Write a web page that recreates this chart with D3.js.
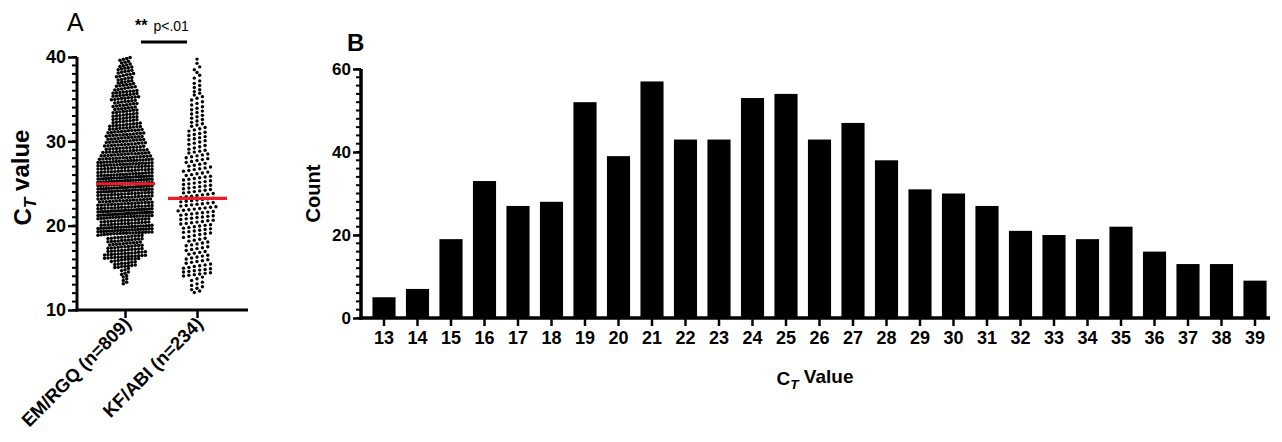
<!DOCTYPE html>
<html>
<head>
<meta charset="utf-8">
<script src="https://cdn.jsdelivr.net/npm/d3@7"></script>
<style>
  body { margin: 0; background: #fff; }
  svg { display: block; font-family: "Liberation Sans", Arial, sans-serif; }
</style>
</head>
<body>
<div id="chart"></div>
<script>
// panel B histogram: EM/RGQ counts per CT value (sums to 809)
const ctValues = [13, 14, 15, 16, 17, 18, 19, 20, 21, 22, 23, 24, 25, 26, 27, 28, 29, 30, 31, 32, 33, 34, 35, 36, 37, 38, 39];
const ctCounts = [5, 7, 19, 33, 27, 28, 52, 39, 57, 43, 43, 53, 54, 43, 47, 38, 31, 30, 27, 21, 20, 19, 22, 16, 13, 13, 9];

// panel A KF/ABI column, counts per CT value (sums to 234)
const kfValues = [12, 13, 14, 15, 16, 17, 18, 19, 20, 21, 22, 23, 24, 25, 26, 27, 28, 29, 30, 31, 32, 33, 34, 35, 36, 37, 38, 39];
const kfCounts = [6, 5, 13, 10, 9, 9, 9, 12, 13, 14, 14, 13, 12, 11, 10, 9, 9, 7, 8, 7, 6, 6, 5, 5, 4, 3, 3, 2];

const groups = ['EM/RGQ (n=809)', 'KF/ABI (n=234)'];
const yTicksA = [10, 20, 30, 40];
const yTicksB = [0, 20, 40, 60];

const W = 1282, H = 442;
const svg = d3.select('#chart').append('svg').attr('width', W).attr('height', H);

// spread each count evenly across its one-unit bin
function expand(values, counts) {
  const out = [];
  values.forEach((v, i) => {
    for (let j = 0; j < counts[i]; j++) out.push(v + (j + 0.5) / counts[i]);
  });
  return out;
}

function subLabel(sel, before, after) {
  sel.append('tspan').text(before);
  sel.append('tspan').attr('font-style', 'italic').attr('font-size', '0.72em').attr('dy', '0.3em').text('T');
  sel.append('tspan').attr('dy', '-0.3em').text(after);
}

function styleTickText(axis, size) {
  axis.selectAll('.tick text')
    .attr('font-size', size).attr('font-weight', 'bold').attr('fill', '#000')
    .attr('font-family', '"Liberation Sans", Arial, sans-serif');
}

// ---------------- panel A ----------------
const a = { left: 77, right: 248, top: 57, bottom: 310 };
const yA = d3.scaleLinear().domain([10, 40]).range([a.bottom, a.top]);
const xA = d3.scalePoint().domain(groups).range([125, 197]);

const gA = svg.append('g');

// minor ticks
gA.append('g').selectAll('line')
  .data(d3.range(10, 41, 1))
  .join('line')
  .attr('x1', a.left - 5).attr('x2', a.left)
  .attr('y1', d => yA(d)).attr('y2', d => yA(d))
  .attr('stroke', '#000').attr('stroke-width', 2);

const yAxisA = gA.append('g')
  .attr('transform', `translate(${a.left},0)`)
  .call(d3.axisLeft(yA).tickValues(yTicksA).tickSize(9).tickPadding(2));
yAxisA.select('.domain').attr('stroke-width', 3).attr('d', `M0,${a.bottom + 1.5}V${a.top}`);
yAxisA.selectAll('.tick line').attr('stroke-width', 2.5);
styleTickText(yAxisA, 18);

const xAxisA = gA.append('g')
  .attr('transform', `translate(0,${a.bottom})`)
  .call(d3.axisBottom(xA).tickSize(8).tickFormat(''));
xAxisA.select('.domain').attr('stroke-width', 3).attr('d', `M${a.left - 1.5},0H${a.right}`);
xAxisA.selectAll('.tick line').attr('stroke-width', 2.5);

gA.append('g').selectAll('text')
  .data(groups)
  .join('text')
  .attr('transform', d => `translate(${xA(d) + 7},${a.bottom + 15}) rotate(-45)`)
  .attr('text-anchor', 'end')
  .attr('font-size', 18.5)
  .attr('font-weight', 'bold')
  .text(d => d);

const yLabA = gA.append('text')
  .attr('transform', `translate(31,${(a.top + a.bottom) / 2 - 6}) rotate(-90)`)
  .attr('text-anchor', 'middle')
  .attr('font-size', 24)
  .attr('font-weight', 'bold');
subLabel(yLabA, 'C', ' value');

gA.append('text').attr('x', 67).attr('y', 31).attr('font-size', 25).text('A');

// significance bar
gA.append('line').attr('x1', 141).attr('x2', 187).attr('y1', 42).attr('y2', 42)
  .attr('stroke', '#000').attr('stroke-width', 3);
const sig = gA.append('text').attr('x', 135).attr('y', 31).attr('font-size', 14);
sig.append('tspan').attr('font-size', 16).attr('font-weight', 'bold').text('**');
sig.append('tspan').attr('dx', 6).text('p<.01');

// column scatter
const columns = [
  { name: groups[0], vals: expand(ctValues, ctCounts), maxHalf: 27, gap: 3.4, r: 1.75, rowH: 3.3 },
  { name: groups[1], vals: expand(kfValues, kfCounts), maxHalf: 26, gap: 5.4, r: 1.7, rowH: 4.4 }
];

columns.forEach(col => {
  const cx = xA(col.name);
  const rows = d3.group(col.vals, v => Math.floor((yA(v) - a.top) / col.rowH));
  const pts = [];
  rows.forEach(vs => {
    const n = vs.length;
    const gap = n > 1 ? Math.min(col.gap, (2 * col.maxHalf) / (n - 1)) : 0;
    vs.forEach((v, i) => pts.push({ x: cx + (i - (n - 1) / 2) * gap, y: yA(v) }));
  });
  gA.append('g').selectAll('circle')
    .data(pts)
    .join('circle')
    .attr('cx', d => d.x)
    .attr('cy', d => d.y)
    .attr('r', col.r)
    .attr('fill', '#000');

  const med = d3.median(col.vals);
  gA.append('line')
    .attr('x1', cx - 29).attr('x2', cx + 30)
    .attr('y1', yA(med)).attr('y2', yA(med))
    .attr('stroke', '#ee1c2b').attr('stroke-width', 3.2);
});

// ---------------- panel B ----------------
const b = { left: 361, right: 1270, top: 69, bottom: 318 };
const yB = d3.scaleLinear().domain([0, 60]).range([b.bottom, b.top]);
const xB = d3.scaleBand().domain(ctValues).range([367.25, 367.25 + 27 * 33.5])
  .paddingInner(0.31).paddingOuter(0.155);

const gB = svg.append('g');

gB.append('g').selectAll('rect')
  .data(ctValues)
  .join('rect')
  .attr('x', d => xB(d))
  .attr('width', xB.bandwidth())
  .attr('y', (d, i) => yB(ctCounts[i]))
  .attr('height', (d, i) => yB(0) - yB(ctCounts[i]))
  .attr('fill', '#000');

gB.append('g').selectAll('line')
  .data(d3.range(0, 61, 2))
  .join('line')
  .attr('x1', b.left - 5).attr('x2', b.left)
  .attr('y1', d => yB(d)).attr('y2', d => yB(d))
  .attr('stroke', '#000').attr('stroke-width', 2);

const yAxisB = gB.append('g')
  .attr('transform', `translate(${b.left},0)`)
  .call(d3.axisLeft(yB).tickValues(yTicksB).tickSize(8).tickPadding(2));
yAxisB.select('.domain').attr('stroke-width', 3.5).attr('d', `M0,${b.bottom + 1.5}V${b.top}`);
yAxisB.selectAll('.tick line').attr('stroke-width', 2.5);
styleTickText(yAxisB, 17);

const xAxisB = gB.append('g')
  .attr('transform', `translate(0,${b.bottom})`)
  .call(d3.axisBottom(xB).tickSize(8).tickPadding(5));
xAxisB.select('.domain').attr('stroke-width', 3.5).attr('d', `M${b.left - 1.5},0H${b.right}`);
xAxisB.selectAll('.tick line').attr('stroke-width', 2.5);
styleTickText(xAxisB, 18);

const xLabB = gB.append('text')
  .attr('x', 815).attr('y', 385)
  .attr('text-anchor', 'middle')
  .attr('font-size', 19).attr('font-weight', 'bold');
subLabel(xLabB, 'C', ' Value');

gB.append('text')
  .attr('transform', `translate(320,${(b.top + b.bottom) / 2}) rotate(-90)`)
  .attr('text-anchor', 'middle')
  .attr('font-size', 20).attr('font-weight', 'bold')
  .text('Count');

gB.append('text').attr('x', 347).attr('y', 51).attr('font-size', 24).attr('font-weight', 'bold').text('B');
</script>
</body>
</html>
